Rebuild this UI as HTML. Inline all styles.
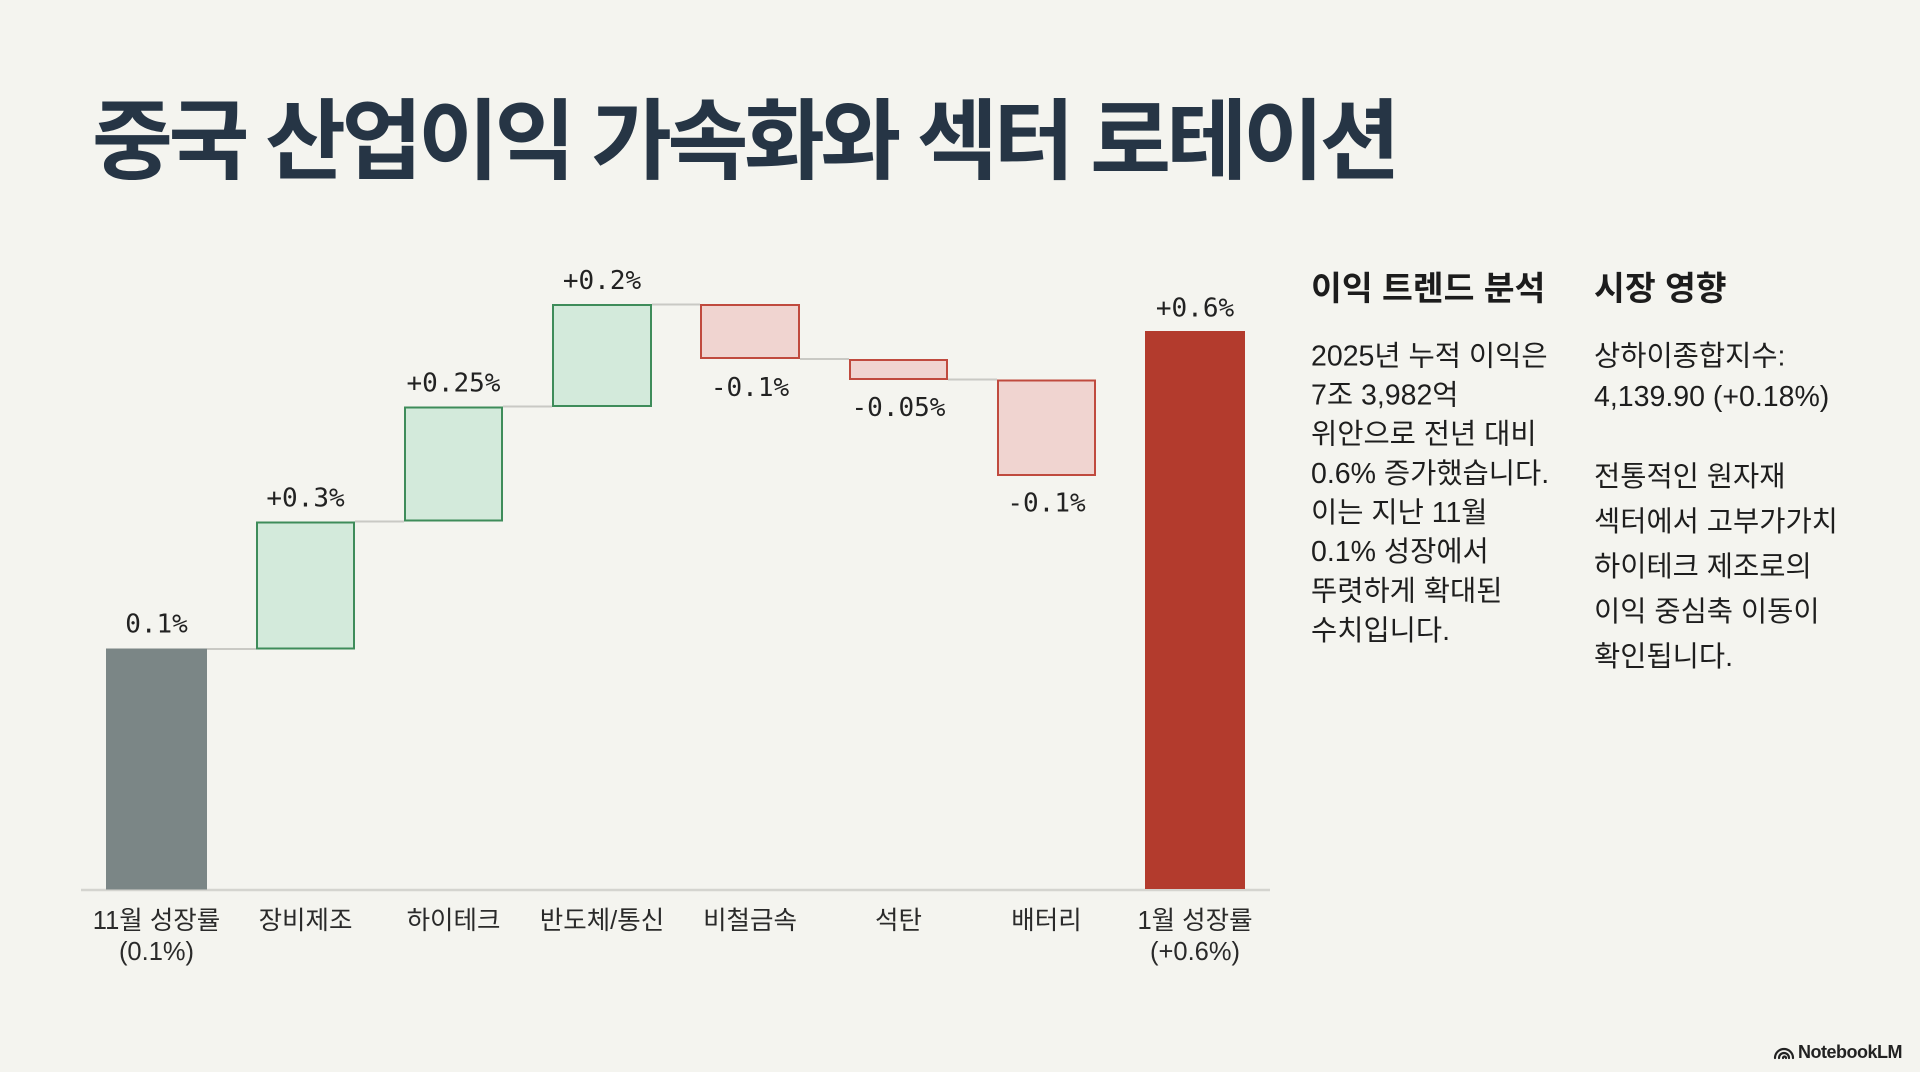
<!DOCTYPE html>
<html lang="ko">
<head>
<meta charset="utf-8">
<style>
  html, body { margin: 0; padding: 0; background: #f4f4ef; }
  body { width: 1920px; height: 1072px; overflow: hidden; }
  svg { display: block; }
  .ko { font-family: "Liberation Sans", "Noto Sans CJK KR", sans-serif; }
  .mono { font-family: "DejaVu Sans Mono", "Liberation Mono", monospace; }
</style>
</head>
<body>
<svg width="1920" height="1072" viewBox="0 0 1920 1072" xmlns="http://www.w3.org/2000/svg">
  <rect x="0" y="0" width="1920" height="1072" fill="#f4f4ef"/>

  <text x="92" y="172" font-family="'Noto Sans CJK KR', sans-serif" font-weight="700" font-size="88" letter-spacing="-4.5" fill="#263545">중국 산업이익 가속화와 섹터 로테이션</text>

  <line x1="81" y1="890" x2="1270" y2="890" stroke="#d4d4cf" stroke-width="2.5"/>

  <g stroke="#c9c9c4" stroke-width="2">
    <line x1="207" y1="649" x2="256" y2="649"/>
    <line x1="355" y1="521.5" x2="404" y2="521.5"/>
    <line x1="503" y1="406.5" x2="552" y2="406.5"/>
    <line x1="652" y1="304.5" x2="700" y2="304.5"/>
    <line x1="800" y1="359" x2="849" y2="359"/>
    <line x1="948" y1="379.5" x2="997" y2="379.5"/>
  </g>

  <rect x="106" y="648.5" width="101" height="241" fill="#7b8686"/>
  <g fill="#d3eadb" stroke="#3e8c5a" stroke-width="2">
    <rect x="257" y="522.5" width="97" height="126"/>
    <rect x="405" y="407.5" width="97" height="113"/>
    <rect x="553" y="305" width="98" height="101"/>
  </g>
  <g fill="#f0d4d0" stroke="#c04a3e" stroke-width="2">
    <rect x="701" y="305" width="98" height="53"/>
    <rect x="850" y="360" width="97" height="19"/>
    <rect x="998" y="380.5" width="97" height="94.5"/>
  </g>
  <rect x="1145" y="331" width="100" height="558" fill="#b33b2d"/>

  <g class="mono" font-size="26" fill="#222" text-anchor="middle">
    <text x="156.5" y="632.5">0.1%</text>
    <text x="305.5" y="506.5">+0.3%</text>
    <text x="453.5" y="391.5">+0.25%</text>
    <text x="602" y="289">+0.2%</text>
    <text x="750" y="396">-0.1%</text>
    <text x="898.5" y="416">-0.05%</text>
    <text x="1046.5" y="511.5">-0.1%</text>
    <text x="1195" y="316.5">+0.6%</text>
  </g>

  <g class="ko" font-size="25.5" fill="#2a2a2a" text-anchor="middle">
    <text x="156.5" y="929">11월 성장률</text>
    <text x="156.5" y="960">(0.1%)</text>
    <text x="305.5" y="929">장비제조</text>
    <text x="453.5" y="929">하이테크</text>
    <text x="602" y="929">반도체/통신</text>
    <text x="750" y="929">비철금속</text>
    <text x="898.5" y="929">석탄</text>
    <text x="1046.5" y="929">배터리</text>
    <text x="1195" y="929">1월 성장률</text>
    <text x="1195" y="960">(+0.6%)</text>
  </g>

  <g class="ko" font-size="33.5" font-weight="700" fill="#1c1c1c">
    <text x="1311" y="300">이익 트렌드 분석</text>
    <text x="1594" y="300">시장 영향</text>
  </g>

  <g class="ko" font-size="28.5" fill="#1e1e1e">
    <text x="1311" y="365.5">2025년 누적 이익은</text>
    <text x="1311" y="404.5">7조 3,982억</text>
    <text x="1311" y="443.5">위안으로 전년 대비</text>
    <text x="1311" y="483">0.6% 증가했습니다.</text>
    <text x="1311" y="522">이는 지난 11월</text>
    <text x="1311" y="561">0.1% 성장에서</text>
    <text x="1311" y="600.5">뚜렷하게 확대된</text>
    <text x="1311" y="640">수치입니다.</text>
  </g>

  <g class="ko" font-size="28.5" fill="#1e1e1e">
    <text x="1594" y="365.5">상하이종합지수:</text>
    <text x="1594" y="406">4,139.90 (+0.18%)</text>
    <text x="1594" y="486">전통적인 원자재</text>
    <text x="1594" y="531">섹터에서 고부가가치</text>
    <text x="1594" y="576">하이테크 제조로의</text>
    <text x="1594" y="621">이익 중심축 이동이</text>
    <text x="1594" y="666">확인됩니다.</text>
  </g>

  <g transform="translate(1774,1045)" fill="none" stroke="#222" stroke-width="2.2" stroke-linecap="round">
    <path d="M1 13 A9 9 0 0 1 19 13"/>
    <path d="M5 13 A5 5 0 0 1 15 13"/>
    <path d="M9 13 A1.5 1.5 0 0 1 12 13"/>
  </g>
  <text x="1798" y="1058" font-family="'Liberation Sans', sans-serif" font-weight="700" font-size="18" letter-spacing="-0.5" fill="#222">NotebookLM</text>
</svg>
</body>
</html>
